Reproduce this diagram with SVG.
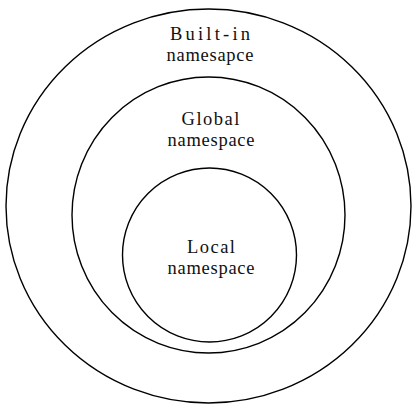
<svg xmlns="http://www.w3.org/2000/svg" width="412" height="406" viewBox="0 0 412 406">
<style>
.c{fill:none;stroke:#000;stroke-width:1.4}
.t{font-family:"Liberation Serif","DejaVu Serif",serif;font-size:18.5px;fill:#111;text-anchor:middle}
</style>
<rect width="412" height="406" fill="#fff"/>
<g id="builtin">
<ellipse class="c" cx="208.5" cy="206" rx="202.5" ry="197"/>
<text class="t" x="210" y="40" textLength="80" lengthAdjust="spacing">Built-in</text>
<text class="t" x="210" y="61" textLength="87" lengthAdjust="spacing">namesapce</text>
</g>
<g id="global">
<ellipse class="c" cx="208.5" cy="215" rx="136.5" ry="138"/>
<text class="t" x="210.5" y="124.5" textLength="58" lengthAdjust="spacing">Global</text>
<text class="t" x="211" y="145.5" textLength="87" lengthAdjust="spacing">namespace</text>
</g>
<g id="local">
<ellipse class="c" cx="209.5" cy="255" rx="87" ry="87"/>
<text class="t" x="211" y="252.5" textLength="48" lengthAdjust="spacing">Local</text>
<text class="t" x="211" y="274" textLength="87" lengthAdjust="spacing">namespace</text>
</g>
<g id="connectors"></g>
</svg>
